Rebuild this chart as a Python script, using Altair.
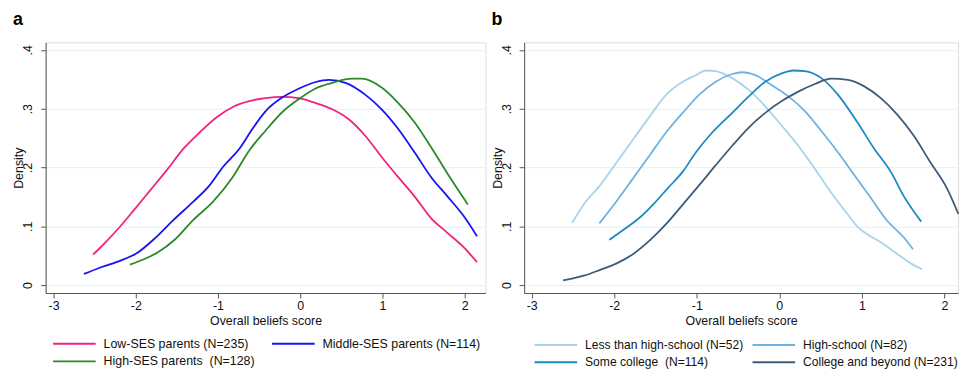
import altair as alt
import pandas as pd

# ---------------- Panel a data (parent SES) ----------------
low_x = [-2.52, -2.43, -2.22, -2.02, -1.82, -1.62, -1.42, -1.22, -1.02, -0.82, -0.62, -0.42, -0.22,
         -0.02, 0.18, 0.39, 0.59, 0.79, 0.99, 1.19, 1.39, 1.59, 1.79, 1.99, 2.15]
low_y = [0.052, 0.064, 0.095, 0.128, 0.162, 0.196, 0.232, 0.260, 0.285, 0.303, 0.313, 0.318, 0.320,
         0.318, 0.310, 0.299, 0.282, 0.254, 0.218, 0.184, 0.151, 0.114, 0.089, 0.064, 0.039]

mid_x = [-2.63, -2.43, -2.22, -1.98, -1.78, -1.54, -1.30, -1.10, -0.94, -0.74, -0.58, -0.42, -0.22,
         -0.02, 0.18, 0.35, 0.55, 0.79, 0.99, 1.19, 1.39, 1.59, 1.79, 1.99, 2.15]
mid_y = [0.019, 0.030, 0.040, 0.055, 0.078, 0.111, 0.142, 0.170, 0.201, 0.232, 0.266, 0.296, 0.319,
         0.334, 0.345, 0.349, 0.344, 0.324, 0.299, 0.266, 0.226, 0.184, 0.151, 0.117, 0.083]

high_x = [-2.07, -1.90, -1.74, -1.52, -1.30, -1.06, -0.82, -0.62, -0.42, -0.22, -0.02, 0.18, 0.39,
          0.63, 0.75, 0.99, 1.19, 1.39, 1.59, 1.79, 2.04]
high_y = [0.035, 0.044, 0.055, 0.078, 0.111, 0.142, 0.184, 0.229, 0.263, 0.294, 0.316, 0.334, 0.344,
          0.351, 0.351, 0.336, 0.310, 0.277, 0.235, 0.190, 0.137]

a_labels = ["Low-SES parents (N=235)", "Middle-SES parents (N=114)", "High-SES parents\u00a0 (N=128)"]
a_colors = ["#F0237F", "#1414F5", "#2A8A2A"]

# ---------------- Panel b data (education) ----------------
lths_x = [-2.51, -2.37, -2.17, -1.97, -1.77, -1.57, -1.37, -1.17, -1.01, -0.89, -0.77, -0.57, -0.37,
          -0.17, 0.03, 0.23, 0.43, 0.63, 0.83, 0.95, 1.07, 1.23, 1.43, 1.63, 1.73]
lths_y = [0.106, 0.137, 0.170, 0.209, 0.248, 0.287, 0.324, 0.346, 0.357, 0.365, 0.364, 0.352, 0.332,
          0.304, 0.271, 0.237, 0.198, 0.157, 0.120, 0.099, 0.086, 0.073, 0.053, 0.034, 0.027]

hs_x = [-2.18, -1.97, -1.77, -1.57, -1.37, -1.17, -0.97, -0.77, -0.57, -0.45, -0.29, -0.09, 0.11,
        0.31, 0.51, 0.71, 0.91, 1.11, 1.31, 1.51, 1.62]
hs_y = [0.105, 0.143, 0.182, 0.221, 0.260, 0.293, 0.324, 0.346, 0.359, 0.362, 0.357, 0.340, 0.321,
        0.296, 0.262, 0.226, 0.187, 0.148, 0.109, 0.081, 0.061]

sc_x = [-2.06, -1.85, -1.69, -1.51, -1.35, -1.17, -1.01, -0.81, -0.57, -0.37, -0.17, 0.03, 0.17,
        0.31, 0.51, 0.71, 0.95, 1.15, 1.35, 1.51, 1.72]
sc_y = [0.077, 0.098, 0.115, 0.140, 0.165, 0.193, 0.226, 0.260, 0.293, 0.321, 0.346, 0.360, 0.365,
        0.364, 0.352, 0.324, 0.276, 0.232, 0.193, 0.151, 0.108]

cb_x = [-2.62, -2.37, -2.17, -1.97, -1.77, -1.57, -1.37, -1.17, -0.97, -0.77, -0.57, -0.37, -0.17,
        0.03, 0.23, 0.43, 0.63, 0.83, 1.03, 1.23, 1.43, 1.63, 1.83, 2.03, 2.17]
cb_y = [0.008, 0.016, 0.026, 0.037, 0.053, 0.076, 0.104, 0.137, 0.170, 0.204, 0.237, 0.268, 0.293,
        0.313, 0.329, 0.342, 0.351, 0.349, 0.338, 0.318, 0.290, 0.254, 0.209, 0.165, 0.121]

b_labels = ["Less than high-school (N=52)", "High-school (N=82)",
            "Some college\u00a0 (N=114)", "College and beyond (N=231)"]
b_colors = ["#A9D3EA", "#6FB2E2", "#1C8AC0", "#3E5C78"]

y_ticks = [0, 0.1, 0.2, 0.3, 0.4]
x_ticks = [-3, -2, -1, 0, 1, 2]

FONT = "Liberation Sans"


def frame(xs_list, ys_list, labels):
    rows = []
    for xs, ys, lab in zip(xs_list, ys_list, labels):
        for i, (xv, yv) in enumerate(zip(xs, ys)):
            rows.append({"score": xv, "density": yv, "group": lab, "order": i})
    return pd.DataFrame(rows)


df_a = frame([low_x, mid_x, high_x], [low_y, mid_y, high_y], a_labels)
df_b = frame([lths_x, hs_x, sc_x, cb_x], [lths_y, hs_y, sc_y, cb_y], b_labels)


def panel(df, labels, colors, xdom, width, title, legend_x, legend_y, col_pad, leg_font):
    return alt.Chart(df, title=alt.TitleParams(
        title, anchor="start", frame="bounds", fontSize=18, fontWeight="bold",
        font=FONT, color="#000000", offset=14)).mark_line(
        strokeWidth=1.8, interpolate="monotone").encode(
        x=alt.X("score:Q",
                scale=alt.Scale(domain=xdom, nice=False, zero=False),
                axis=alt.Axis(title="Overall beliefs score", values=x_ticks,
                              labelExpr="'' + datum.value", grid=False,
                              tickSize=5, labelPadding=2, titlePadding=2,
                              labelFontSize=12.5, titleFontSize=12.5,
                              labelFont=FONT, titleFont=FONT,
                              labelColor="#111111", titleColor="#111111",
                              titleFontWeight="normal",
                              domainColor="#555555", tickColor="#555555")),
        y=alt.Y("density:Q",
                scale=alt.Scale(domain=[-0.0134, 0.4128], nice=False, zero=False),
                axis=alt.Axis(title="Density", values=y_ticks,
                              labelExpr="datum.value == 0 ? '0' : replace(format(datum.value, '.1f'), '0.', '.')",
                              labelAngle=270, labelAlign="center", labelBaseline="bottom",
                              tickSize=5, labelPadding=6, titlePadding=1,
                              minExtent=19, maxExtent=19,
                              grid=True, gridColor="#E6EFF1", gridWidth=1,
                              labelFontSize=12.5, titleFontSize=12.5,
                              labelFont=FONT, titleFont=FONT,
                              labelColor="#111111", titleColor="#111111",
                              titleFontWeight="normal",
                              domainColor="#555555", tickColor="#555555")),
        color=alt.Color("group:N",
                        scale=alt.Scale(domain=labels, range=colors),
                        legend=alt.Legend(title=None, orient="none", legendX=legend_x, legendY=legend_y,
                                          direction="horizontal",
                                          columns=2, symbolType="M-3.5833,0H3.5833", symbolSize=144,
                                          symbolStrokeWidth=2, labelOffset=22.5,
                                          columnPadding=col_pad, rowPadding=4, padding=0,
                                          labelFontSize=leg_font, labelFont=FONT,
                                          labelColor="#111111", labelLimit=300)),
        order="order:Q",
    ).properties(width=width, height=253)


chart_a = panel(df_a, a_labels, a_colors, [-3.096, 2.253], 444, "a", 22, 297, 12, 12.5)
chart_b = panel(df_b, b_labels, b_colors, [-3.092, 2.166], 438, "b", 25, 298, 4, 12.2)

chart = alt.hconcat(chart_a, chart_b, spacing=4).resolve_scale(color="independent").properties(
    padding={"left": 4, "top": 0, "right": 0, "bottom": -3}
).configure_view(stroke=None).configure(background="white")

chart.save("out.html", embed_options={"renderer": "svg", "actions": False})
